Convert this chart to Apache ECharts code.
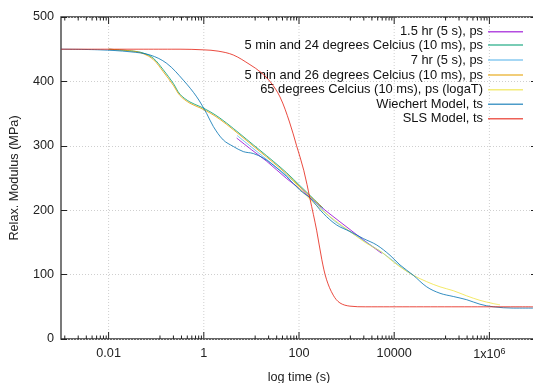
<!DOCTYPE html>
<html><head><meta charset="utf-8">
<script src="https://cdn.jsdelivr.net/npm/echarts@6/dist/echarts.min.js"></script>
<style>html,body{margin:0;padding:0;background:#fff}#c{width:533px;height:383px}</style>
</head><body><div id="c"></div>
<script>
// ---------------- data (x stored as log10 of time in seconds) ----------------
const seriesNames = [
  '1.5 hr (5 s), ps',
  '5 min and 24 degrees Celcius (10 ms), ps',
  '7 hr (5 s), ps',
  '5 min and 26 degrees Celcius (10 ms), ps',
  '65 degrees Celcius (10 ms), ps (logaT)',
  'Wiechert Model, ts',
  'SLS Model, ts'
];
const hr15LogT = [0.691, 1.000, 1.321, 1.742, 2.021, 2.300, 2.651, 3.071, 3.387, 3.737];
const hr15E    = [312,   294,   276,   249,   233,   215,   194,   170,   152,   133];

const min24LogT = [-2.000,-1.481,-1.271,-1.061,-0.851,-0.641,-0.500,-0.290,-0.080,0.130,0.340,0.620,0.901,1.181,1.460,1.742,2.021,2.300,2.511];
const min24E    = [450,   447,   444,   436,   418,   397,   380,   368,   361,   353,  343,  327,  310,  293,  276,  258,  238,  218,  203];

const hr7LogT = [0.70, 1.00, 1.50, 2.00, 2.25, 2.50, 2.75, 3.00, 3.25, 3.50, 3.75, 4.00, 4.25, 4.40];
const hr7E    = [316,  298,  268,  238,  220,  200,  183,  170,  158,  146,  134,  120,  106,  99];

const min26LogT = [-2.000,-1.481,-1.271,-1.061,-0.851,-0.641,-0.500,-0.290,-0.080,0.130,0.340,0.620,0.901,1.181,1.460,1.742,2.021,2.300,2.477];
const min26E    = [450,   447,   443,   434,   415,   394,   378,   366,   359,   351,  341,  325,  308,  291,  274,  256,  236,  217,  205];

const deg65LogT = [1.832, 2.021, 2.300, 2.651, 3.071, 3.387, 3.737, 3.912, 4.122, 4.401, 4.683, 4.962, 5.242, 5.523, 5.803, 6.082, 6.223];
const deg65E    = [250,   233,   212,   190,   167,   150,   135,   124,   112,   99,    89,    81,    75,    67,    60,    55,    53];

const wiechertLogT = [-3.000,-2.181,-1.550,-1.130,-0.779,-0.431,-0.149,0.061,0.200,0.410,0.620,0.830,1.040,1.250,1.460,1.742,2.021,2.231,2.511,2.792,3.071,3.351,3.632,3.912,4.122,4.401,4.683,4.962,5.242,5.523,5.803,6.082,6.502,6.916];
const wiechertE    = [450,   449,   446,   441,   428,   402,   376,   350,  330,  309,  299,  291,  288,  281,  270,  252,  231,  219,  195,  177,  167,  156,  146,  130,  115,  99,   81,   71,   66,   61,   54,   50,   48,   48];

const slsLogT = [-3.000,-0.500,0.000,0.300,0.620,0.970,1.200,1.400,1.600,1.800,1.950,2.100,2.230,2.370,2.480,2.580,2.720,2.860,3.070,3.400,6.916];
const slsE    = [450,   450,   449,  447,  441,  426,  414,  399,  376,  337,  300,  262,  218,  169,  123,  92,   68,   56,   51,   50,   50];

const xTickValues = [0.01, 1, 100, 10000, 1000000];
const xTickLabels = ['0.01', '1', '100', '10000', '{a|1x10}{s|6}'];

// ---------------- build ----------------
const colors = ['#9400D3','#009E73','#56B4E9','#E69F00','#F0E442','#0072B2','#E51E10'];
const xs = [hr15LogT, min24LogT, hr7LogT, min26LogT, deg65LogT, wiechertLogT, slsLogT];
const ys = [hr15E, min24E, hr7E, min26E, deg65E, wiechertE, slsE];
const FONT = 'Liberation Sans, Arial, sans-serif';
const FS = 12.67;

// gnuplot-style minor ticks: 8 linear subdivisions between majors a factor 100 apart
const tickData = [];
const majorsAll = [0.0001].concat(xTickValues);
for (let i = 1; i < majorsAll.length; i++) {
  const lo = majorsAll[i-1], hi = majorsAll[i];
  for (let k = 1; k <= 8; k++) tickData.push([lo + k * (hi - lo) / 9, 0]);
  tickData.push([hi, 1]);
}

const lineSeries = seriesNames.map((n, i) => ({
  name: n, type: 'line', showSymbol: false, symbol: 'none',
  smooth: 0.35,
  lineStyle: { width: 1, color: colors[i], opacity: 0.8 }, itemStyle: { color: colors[i], opacity: 0.7 },
  data: xs[i].map((e, j) => [Math.pow(10, e), ys[i][j]]),
  z: 3 + i, animation: false
}));

const legendTops = [31.7, 45, 60, 75, 89.7, 104.3, 118.7];
const legends = seriesNames.map((n, i) => ({
  data: [n], orient: 'vertical', right: 10, top: legendTops[i] - 7, align: 'right',
  icon: 'rect', itemWidth: 35, itemHeight: 1.5, padding: 0, selectedMode: false,
  textStyle: { fontFamily: FONT, fontSize: 12.9, color: '#111', lineHeight: 14 }
}));

const chart = echarts.init(document.getElementById('c'), null, { renderer: 'canvas' });
chart.setOption({
  animation: false,
  backgroundColor: '#fff',
  grid: { left: 61, top: 17, width: 476, height: 322, containLabel: false, outerBoundsMode: 'none',
          show: true, borderColor: '#333', borderWidth: 1.3, backgroundColor: 'transparent' },
  legend: legends,
  xAxis: {
    type: 'log', logBase: 10, min: 0.001, max: 1e7, interval: 1,
    name: 'log time (s)', nameLocation: 'middle', nameGap: 32,
    nameTextStyle: { fontFamily: FONT, fontSize: FS, color: '#222' },
    axisLine: { show: false }, axisTick: { show: false }, splitLine: { show: false },
    axisLabel: {
      margin: 8, fontFamily: FONT, fontSize: FS, color: '#222',
      showMinLabel: true, showMaxLabel: true, hideOverlap: false,
      formatter: v => {
        for (let i = 0; i < xTickValues.length; i++) {
          if (Math.abs(Math.log10(v) - Math.log10(xTickValues[i])) < 1e-6) return xTickLabels[i];
        }
        return '';
      },
      rich: {
        a: { fontFamily: FONT, fontSize: FS, color: '#222' },
        s: { fontFamily: FONT, fontSize: 9, color: '#222', padding: [0, 0, 7, 0] }
      }
    }
  },
  yAxis: [{
    type: 'value', min: 0, max: 500, interval: 100,
    name: 'Relax. Modulus (MPa)', nameLocation: 'middle', nameGap: 40, nameRotate: 90,
    nameTextStyle: { fontFamily: FONT, fontSize: FS, color: '#222' },
    axisLine: { show: false },
    axisTick: { show: true, inside: true, length: 6, lineStyle: { color: '#222' } },
    axisLabel: { margin: 7, fontFamily: FONT, fontSize: FS, color: '#222' },
    splitLine: { show: true, lineStyle: { color: '#cfcfcf', type: [1, 2], width: 1 } }
  }, {
    type: 'value', min: 0, max: 500, interval: 100, position: 'right',
    axisLine: { show: false },
    axisTick: { show: true, inside: true, length: 6, lineStyle: { color: '#222' } },
    axisLabel: { show: false }, splitLine: { show: false }
  }],
  series: [{
    type: 'custom', silent: true, z: 1, clip: false,
    data: tickData.filter(d => d[1] === 1),
    renderItem: (params, api) => {
      const p0 = api.coord([api.value(0), 0]);
      const p1 = api.coord([api.value(0), 500]);
      return { type: 'line', shape: { x1: p0[0], y1: p0[1], x2: p1[0], y2: p1[1] },
        style: { stroke: '#cfcfcf', lineWidth: 1, lineDash: [1, 2] } };
    }
  }, {
    type: 'custom', silent: true, z: 20, clip: false,
    data: tickData,
    renderItem: (params, api) => {
      const p0 = api.coord([api.value(0), 0]);
      const p1 = api.coord([api.value(0), 500]);
      const len = api.value(1) ? 7 : 3.5;
      return { type: 'group', children: [
        { type: 'line', shape: { x1: p0[0], y1: p0[1], x2: p0[0], y2: p0[1] - len }, style: { stroke: '#222', lineWidth: 1 } },
        { type: 'line', shape: { x1: p1[0], y1: p1[1], x2: p1[0], y2: p1[1] + len }, style: { stroke: '#222', lineWidth: 1 } }
      ] };
    }
  }].concat(lineSeries)
});
</script></body></html>
